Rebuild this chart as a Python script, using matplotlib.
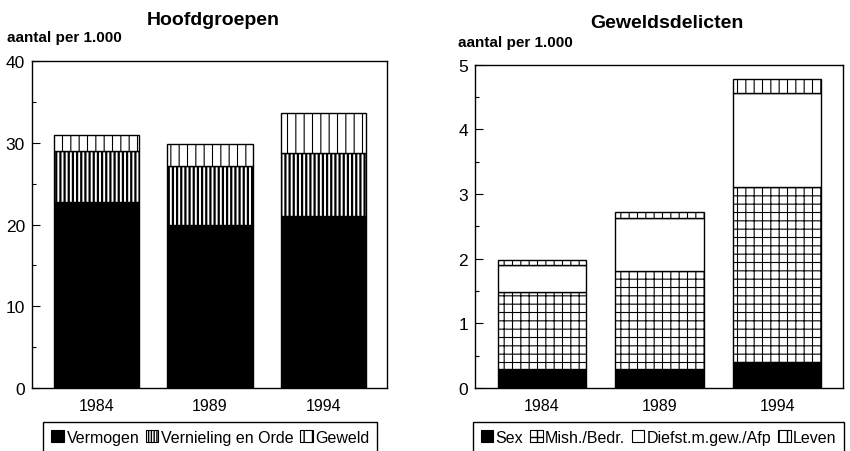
import matplotlib
matplotlib.use('Agg')
import matplotlib.pyplot as plt
from matplotlib.patches import Patch
from matplotlib.ticker import MultipleLocator

plt.rcParams['font.family'] = ['Liberation Sans', 'DejaVu Sans']
plt.rcParams['hatch.color'] = 'black'

jaren = ['1984', '1989', '1994']

# Hoofdgroepen (aantal per 1.000)
vermogen = [22.8, 20.0, 21.0]
vernieling = [6.2, 7.2, 7.7]
geweld = [2.0, 2.7, 4.9]

# Geweldsdelicten (aantal per 1.000)
sex = [0.29, 0.30, 0.40]
mishandeling = [1.19, 1.51, 2.71]
diefstal = [0.42, 0.82, 1.45]
leven = [0.08, 0.09, 0.22]

fig = plt.figure(figsize=(8.5, 4.52), dpi=100)
ax1 = fig.add_axes([0.0376, 0.1394, 0.4176, 0.7234])
ax2 = fig.add_axes([0.5588, 0.1394, 0.4329, 0.7152])

x = range(len(jaren))
breedte = 0.75


def stapel(ax, reeksen):
    onder = [0.0] * len(jaren)
    for waarden, kleur, arcering, lw in reeksen:
        bars = ax.bar(x, waarden, breedte, bottom=onder, color=kleur,
                      edgecolor='black', linewidth=1.0, hatch=arcering)
        for b in bars:
            if hasattr(b, 'set_hatch_linewidth'):
                b.set_hatch_linewidth(lw)
        onder = [o + w for o, w in zip(onder, waarden)]


stapel(ax1, [(vermogen, 'black', None, 1.0),
             (vernieling, 'white', '||||', 1.6),
             (geweld, 'white', '||', 0.8)])
stapel(ax2, [(sex, 'black', None, 1.0),
             (mishandeling, 'white', '++', 0.8),
             (diefstal, 'white', None, 1.0),
             (leven, 'white', '||', 0.8)])

for ax, ymax, major, minor in [(ax1, 40, 10, 5), (ax2, 5, 1, 0.5)]:
    ax.set_ylim(0, ymax)
    ax.set_xlim(-0.57, 2.56)
    ax.yaxis.set_major_locator(MultipleLocator(major))
    ax.yaxis.set_minor_locator(MultipleLocator(minor))
    ax.set_xticks(list(x))
    ax.set_xticklabels(jaren)
    ax.tick_params(axis='y', which='major', direction='in', length=6,
                   width=0.8, labelsize=12.5, pad=5)
    ax.tick_params(axis='y', which='minor', direction='in', length=3,
                   width=0.8)
    ax.tick_params(axis='x', length=0, labelsize=11.5, pad=7)
    for s in ax.spines.values():
        s.set_linewidth(1.0)

fig.text(0.251, 0.955, 'Hoofdgroepen', ha='center', va='center',
         fontsize=14, fontweight='bold')
fig.text(0.008, 0.915, 'aantal per 1.000', ha='left', va='center',
         fontsize=11, fontweight='bold')
fig.text(0.785, 0.949, 'Geweldsdelicten', ha='center', va='center',
         fontsize=14, fontweight='bold')
fig.text(0.539, 0.904, 'aantal per 1.000', ha='left', va='center',
         fontsize=11, fontweight='bold')


def legenda(ax, items, links, spatie):
    handles = [Patch(facecolor=k, edgecolor='black', hatch=h, linewidth=0.8)
               for _, k, h in items]
    labels = [n for n, _, _ in items]
    leg = ax.legend(handles, labels, loc='upper left', ncol=len(items),
                    bbox_to_anchor=(links, 0.065), bbox_transform=fig.transFigure,
                    fontsize=11.5, handlelength=0.8, handleheight=0.8,
                    handletextpad=0.15, columnspacing=spatie, borderpad=0.5,
                    borderaxespad=0, fancybox=False, framealpha=1,
                    edgecolor='black')
    leg.get_frame().set_linewidth(1.0)


legenda(ax1, [('Vermogen', 'black', None),
              ('Vernieling en Orde', 'white', '||||||'),
              ('Geweld', 'white', '||')], 0.051, 0.4)
legenda(ax2, [('Sex', 'black', None),
              ('Mish./Bedr.', 'white', '++'),
              ('Diefst.m.gew./Afp', 'white', None),
              ('Leven', 'white', '||')], 0.556, 0.4)

fig.savefig('out.png', dpi=100)
